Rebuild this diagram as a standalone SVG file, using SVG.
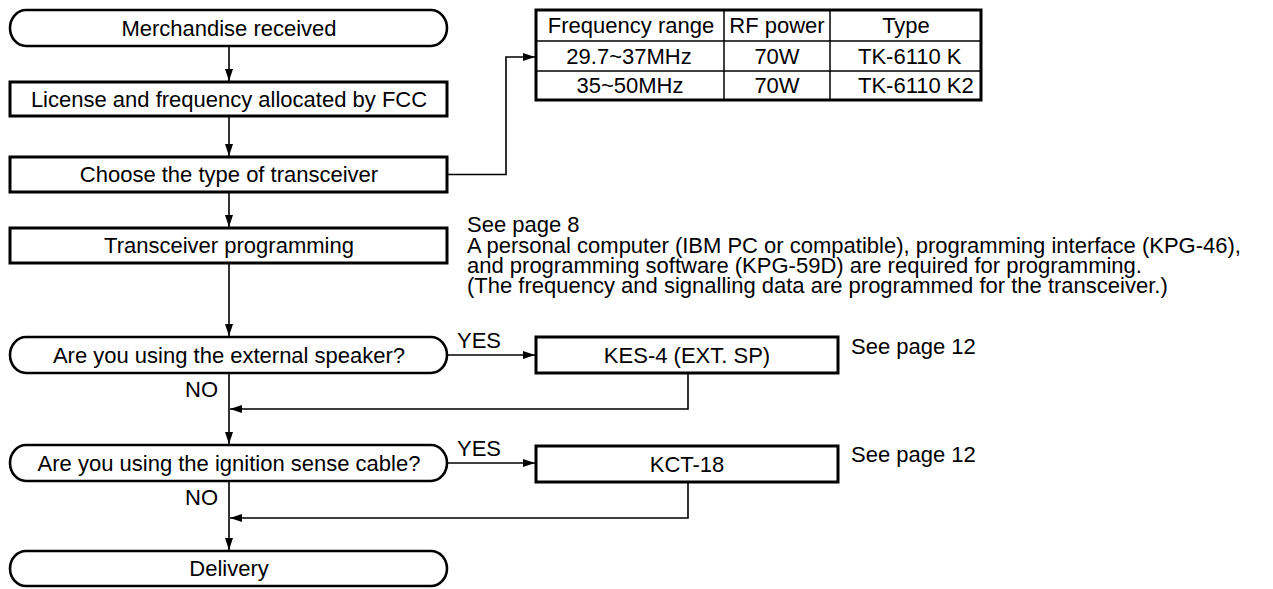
<svg xmlns="http://www.w3.org/2000/svg" width="1273" height="589" viewBox="0 0 1273 589">
<style>
text{font-family:"Liberation Sans",Arial,Helvetica,sans-serif;font-size:22px;fill:#000}
.c{text-anchor:middle}
.box{fill:#fff;stroke:#000;stroke-width:3}
.term{fill:#fff;stroke:#000;stroke-width:2.6}
.ln{fill:none;stroke:#000;stroke-width:1.6}
.tb{fill:none;stroke:#000;stroke-width:1.5}
</style>
<defs>
<marker id="ah" markerUnits="userSpaceOnUse" markerWidth="13" markerHeight="9" refX="12" refY="4" orient="auto">
<path d="M0,0 L12,4 L0,8 z" fill="#000"/>
</marker>
</defs>
<rect width="1273" height="589" fill="#fff"/>
<g id="connectors">
<line class="ln" x1="229" y1="46" x2="229" y2="81" marker-end="url(#ah)"/>
<line class="ln" x1="229" y1="116" x2="229" y2="156" marker-end="url(#ah)"/>
<line class="ln" x1="229" y1="192" x2="229" y2="227" marker-end="url(#ah)"/>
<polyline class="ln" points="447,174.5 506,174.5 506,57 535,57" marker-end="url(#ah)"/>
<line class="ln" x1="229" y1="263" x2="229" y2="336" marker-end="url(#ah)"/>
<line class="ln" x1="447" y1="355" x2="535" y2="355" marker-end="url(#ah)"/>
<line class="ln" x1="229" y1="373" x2="229" y2="444" marker-end="url(#ah)"/>
<polyline class="ln" points="688,373 688,409 230,409" marker-end="url(#ah)"/>
<line class="ln" x1="447" y1="463" x2="535" y2="463" marker-end="url(#ah)"/>
<line class="ln" x1="229" y1="481" x2="229" y2="550" marker-end="url(#ah)"/>
<polyline class="ln" points="688,482 688,518 230,518" marker-end="url(#ah)"/>
</g>
<g id="merchandise">
<rect class="term" x="10" y="10" width="437" height="36" rx="16" ry="18"/>
<text class="c" x="229" y="36">Merchandise received</text>
</g>
<g id="license">
<rect class="box" x="10" y="82" width="437" height="34"/>
<text class="c" x="229" y="107">License and frequency allocated by FCC</text>
</g>
<g id="choose">
<rect class="box" x="10" y="157" width="437" height="35"/>
<text class="c" x="229" y="182">Choose the type of transceiver</text>
</g>
<g id="table">
<rect x="536" y="10" width="445" height="90" fill="#fff" stroke="#000" stroke-width="3"/>
<line class="tb" x1="536" y1="41" x2="981" y2="41"/>
<line class="tb" x1="536" y1="71" x2="981" y2="71"/>
<line class="tb" x1="724" y1="10" x2="724" y2="100"/>
<line class="tb" x1="830" y1="10" x2="830" y2="100"/>
<text class="c" x="631" y="33">Frequency range</text>
<text class="c" x="777" y="33">RF power</text>
<text class="c" x="906" y="33">Type</text>
<text class="c" x="629" y="64">29.7~37MHz</text>
<text class="c" x="777" y="64">70W</text>
<text x="858" y="64">TK-6110 K</text>
<text class="c" x="630" y="93">35~50MHz</text>
<text class="c" x="777" y="93">70W</text>
<text x="858" y="93">TK-6110 K2</text>
</g>
<g id="programming">
<rect class="box" x="10" y="228" width="437" height="35"/>
<text class="c" x="229" y="253">Transceiver programming</text>
</g>
<g id="note">
<text x="467" y="232">See page 8</text>
<text x="467" y="253">A personal computer (IBM PC or compatible), programming interface (KPG-46),</text>
<text x="467" y="273">and programming software (KPG-59D) are required for programming.</text>
<text x="467" y="293">(The frequency and signalling data are programmed for the transceiver.)</text>
</g>
<g id="q-speaker">
<rect class="term" x="10" y="337" width="437" height="36" rx="16" ry="18"/>
<text class="c" x="229" y="363">Are you using the external speaker?</text>
<text x="457" y="348">YES</text>
<text x="185" y="397">NO</text>
</g>
<g id="kes4">
<rect class="box" x="536" y="337" width="302" height="36"/>
<text class="c" x="687" y="363">KES-4 (EXT. SP)</text>
<text x="851" y="354">See page 12</text>
</g>
<g id="q-ignition">
<rect class="term" x="10" y="445" width="437" height="36" rx="16" ry="18"/>
<text class="c" x="229" y="471">Are you using the ignition sense cable?</text>
<text x="457" y="456">YES</text>
<text x="185" y="505">NO</text>
</g>
<g id="kct18">
<rect class="box" x="536" y="446" width="302" height="36"/>
<text class="c" x="687" y="472">KCT-18</text>
<text x="851" y="462">See page 12</text>
</g>
<g id="delivery">
<rect class="term" x="10" y="551" width="437" height="35" rx="16" ry="17.5"/>
<text class="c" x="229" y="576">Delivery</text>
</g>
</svg>
